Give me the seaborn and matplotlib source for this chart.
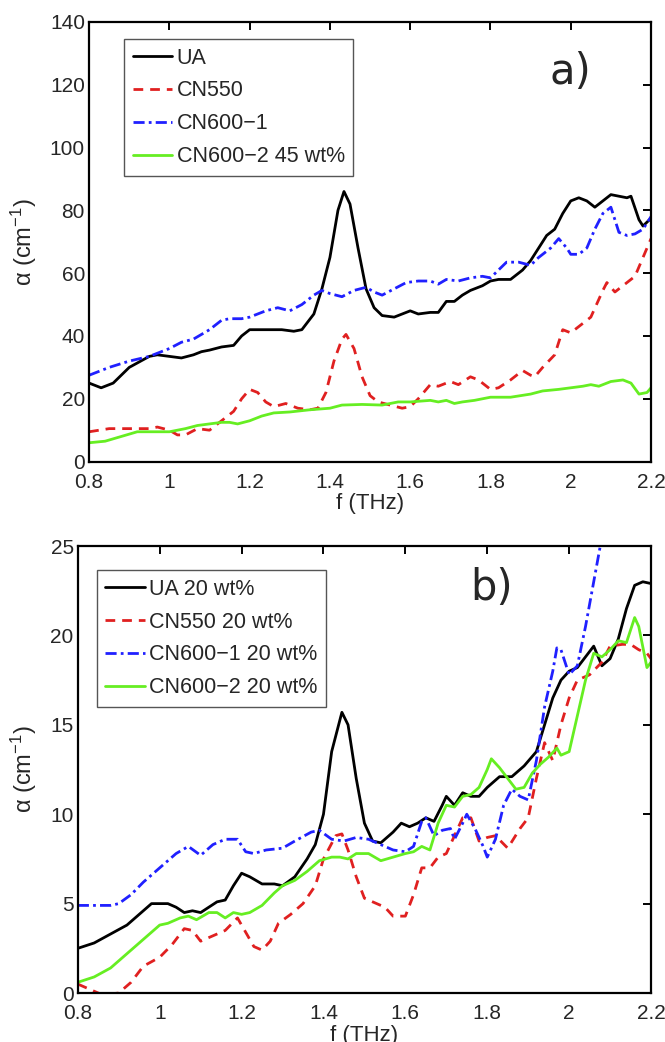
import numpy as np
import matplotlib
matplotlib.use("Agg")
import matplotlib.pyplot as plt
import seaborn as sns

# ---- panel a) : pure materials ----
f_ua_a = [0.8, 0.83, 0.86, 0.9, 0.95, 0.97, 1.0, 1.03, 1.06, 1.08, 1.1, 1.13, 1.16, 1.18, 1.2, 1.25, 1.28, 1.31,
          1.33, 1.36, 1.38, 1.4, 1.42, 1.435, 1.45, 1.47, 1.49, 1.51, 1.53, 1.56, 1.58, 1.6, 1.62, 1.65, 1.67,
          1.69, 1.71, 1.73, 1.75, 1.78, 1.8, 1.82, 1.85, 1.88, 1.9, 1.92, 1.94, 1.96, 1.98, 2.0, 2.02, 2.04,
          2.06, 2.08, 2.1, 2.12, 2.14, 2.15, 2.17, 2.18, 2.2]
a_ua_a = [25, 23.5, 25, 30, 33.5, 34, 33.5, 33, 34, 35, 35.5, 36.5, 37, 40, 42, 42, 42, 41.5,
          42, 47, 55, 65, 80, 86, 82, 68, 55, 49, 46.5, 46, 47, 48, 47, 47.5, 47.5,
          51, 51, 53, 54.5, 56, 57.5, 58, 58, 61, 64, 68, 72, 74, 79, 83, 84, 83,
          81, 83, 85, 84.5, 84, 84.5, 77, 75, 77.5]

f_cn550_a = [0.8, 0.85, 0.9, 0.95, 0.97, 1.0, 1.02, 1.04, 1.07, 1.1, 1.13, 1.16, 1.18, 1.2, 1.22, 1.24, 1.26,
             1.29, 1.32, 1.35, 1.37, 1.39, 1.41, 1.43, 1.44, 1.46, 1.48, 1.5, 1.52, 1.55, 1.58, 1.6, 1.62,
             1.65, 1.67, 1.7, 1.72, 1.75, 1.77, 1.8, 1.82, 1.85, 1.88, 1.9, 1.91, 1.93, 1.96, 1.98, 2.0,
             2.02, 2.05, 2.08, 2.09, 2.11, 2.14, 2.16, 2.18, 2.2]
a_cn550_a = [9.5, 10.5, 10.5, 10.5, 11, 10, 8.5, 8.5, 10.5, 10, 13, 16, 20, 23, 22, 19, 17.5,
             18.5, 17, 16.5, 17, 22, 32, 39, 40.5, 36, 27, 21, 19, 18, 17, 17.5, 20,
             24.5, 24, 25.5, 24.5, 27, 26, 23, 23.5, 26, 29, 27.5, 27, 30, 34, 42, 41,
             43, 46, 54.5, 57, 54, 57, 59, 65, 71]

f_cn6001_a = [0.8, 0.85, 0.9, 0.95, 1.0, 1.03, 1.06, 1.1, 1.13, 1.15, 1.18, 1.2, 1.24, 1.27, 1.3, 1.33, 1.36,
              1.38, 1.4, 1.43, 1.46, 1.49, 1.51, 1.53, 1.56, 1.59, 1.62, 1.65, 1.67, 1.69, 1.72, 1.75, 1.78,
              1.8, 1.82, 1.84, 1.87, 1.9, 1.92, 1.95, 1.97, 1.99, 2.0, 2.02, 2.04, 2.06, 2.08, 2.1, 2.12,
              2.14, 2.16, 2.18, 2.2]
a_cn6001_a = [27.5, 30, 32, 33.5, 36, 38, 39, 42, 45, 45.5, 45.5, 46, 48, 49, 48, 50, 53,
              54.5, 53.5, 52.5, 54.5, 55.5, 54, 53, 55, 57, 57.5, 57.5, 56.5, 58, 57.5, 58.5, 59,
              58.5, 61, 63.5, 63.5, 62.5, 65, 68, 71, 68, 66, 66, 68, 74, 79, 81, 73,
              72, 72.5, 74, 78]

f_cn6002_a = [0.8, 0.84, 0.88, 0.92, 0.96, 1.0, 1.04, 1.07, 1.1, 1.13, 1.15, 1.17, 1.2, 1.23, 1.26, 1.3, 1.35,
              1.4, 1.43, 1.48, 1.53, 1.57, 1.6, 1.65, 1.67, 1.69, 1.71, 1.73, 1.76, 1.8, 1.85, 1.9, 1.93,
              1.97, 2.0, 2.03, 2.05, 2.07, 2.1, 2.13, 2.15, 2.17, 2.19, 2.2]
a_cn6002_a = [6, 6.5, 8, 9.5, 9.5, 9.5, 10.5, 11.5, 12, 12.5, 12.5, 12, 13, 14.5, 15.5, 15.8, 16.5,
              17, 18, 18.2, 18, 19, 19, 19.5, 19, 19.5, 18.5, 19, 19.5, 20.5, 20.5, 21.5, 22.5,
              23, 23.5, 24, 24.5, 24, 25.5, 26, 25, 21.5, 22, 23.5]

labels_a = ["UA", "CN550", "CN600\u22121", "CN600\u22122 45 wt%"]

# ---- panel b) : 20 wt% mixtures ----
f_ua_b = [0.8, 0.84, 0.88, 0.92, 0.95, 0.98, 1.02, 1.04, 1.06, 1.08, 1.1, 1.12, 1.14, 1.16, 1.18, 1.2, 1.22,
          1.25, 1.28, 1.3, 1.33, 1.36, 1.38, 1.4, 1.42, 1.445, 1.46, 1.48, 1.5, 1.52, 1.54, 1.57, 1.59,
          1.61, 1.63, 1.65, 1.67, 1.69, 1.7, 1.72, 1.74, 1.76, 1.78, 1.8, 1.83, 1.86, 1.89, 1.92, 1.94,
          1.96, 1.98, 2.0, 2.02, 2.04, 2.06, 2.08, 2.1, 2.12, 2.14, 2.16, 2.18, 2.2]
a_ua_b = [2.5, 2.8, 3.3, 3.8, 4.4, 5.0, 5.0, 4.8, 4.5, 4.6, 4.5, 4.8, 5.1, 5.2, 6.0, 6.7, 6.5,
          6.1, 6.1, 6.0, 6.5, 7.5, 8.3, 10, 13.5, 15.7, 15, 12, 9.5, 8.5, 8.4, 9.0, 9.5,
          9.3, 9.5, 9.8, 9.6, 10.5, 11, 10.5, 11.2, 11, 11, 11.5, 12.1, 12.1, 12.7, 13.5, 15,
          16.5, 17.5, 18, 18.2, 18.8, 19.4, 18.3, 18.7, 19.8, 21.5, 22.8, 23, 22.9]

f_cn550_b = [0.8, 0.83, 0.86, 0.9, 0.93, 0.96, 1.0, 1.03, 1.06, 1.08, 1.1, 1.13, 1.16, 1.19, 1.21, 1.23, 1.25,
             1.27, 1.29, 1.32, 1.35, 1.38, 1.4, 1.43, 1.445, 1.46, 1.48, 1.5, 1.52, 1.55, 1.57, 1.6, 1.62,
             1.64, 1.66, 1.68, 1.7, 1.72, 1.74, 1.76, 1.78, 1.8, 1.82, 1.85, 1.88, 1.9, 1.92, 1.94, 1.96,
             1.98, 2.0, 2.02, 2.05, 2.08, 2.1, 2.13, 2.15, 2.17, 2.19, 2.2]
a_cn550_b = [0.5, 0.2, -0.1, 0.0, 0.6, 1.5, 2.0, 2.7, 3.6, 3.5, 2.9, 3.2, 3.5, 4.2, 3.4, 2.6, 2.4,
             2.9, 3.9, 4.4, 5.0, 6.0, 7.5, 8.8, 8.9, 8.0, 6.5, 5.3, 5.1, 4.8, 4.3, 4.3, 5.5,
             7.0, 7.0, 7.6, 7.8, 8.8, 9.8, 9.8, 8.5, 8.7, 8.8, 8.1, 9.2, 9.8, 12, 14, 13,
             15, 16.5, 17.5, 17.8, 18.5, 19.4, 19.5, 19.5, 19.2, 19.0, 18.7]

f_cn6001_b = [0.8, 0.85, 0.88, 0.9, 0.93, 0.96, 1.0, 1.04, 1.07, 1.1, 1.13, 1.16, 1.19, 1.21, 1.23, 1.26, 1.3,
              1.33, 1.37, 1.39, 1.42, 1.45, 1.48, 1.51, 1.54, 1.57, 1.6, 1.62, 1.64, 1.65, 1.67, 1.69, 1.71,
              1.72, 1.74, 1.75, 1.77, 1.79, 1.8, 1.82, 1.84, 1.86, 1.88, 1.9, 1.92, 1.94, 1.96, 1.97, 1.98,
              2.0, 2.02, 2.04, 2.06, 2.08, 2.1]
a_cn6001_b = [4.9, 4.9, 4.9, 5.0, 5.5, 6.2, 7.0, 7.8, 8.2, 7.7, 8.3, 8.6, 8.6, 7.9, 7.8, 8.0, 8.1,
              8.5, 9.0, 9.1, 8.6, 8.5, 8.7, 8.6, 8.3, 8.0, 7.9, 8.2, 9.6, 9.8, 8.8, 9.1, 9.2,
              8.6, 9.5, 10, 9.2, 8.2, 7.6, 8.6, 10.5, 11.4, 11.0, 10.8, 13.0, 16, 18, 19.3, 19.2,
              17.8, 18.3, 20.5, 23, 25.5, 28]

f_cn6002_b = [0.8, 0.84, 0.88, 0.92, 0.96, 1.0, 1.02, 1.05, 1.07, 1.09, 1.12, 1.14, 1.16, 1.18, 1.2, 1.22, 1.25,
              1.28, 1.3, 1.33, 1.36, 1.39, 1.42, 1.44, 1.46, 1.48, 1.51, 1.54, 1.57, 1.6, 1.62, 1.64, 1.66,
              1.68, 1.7, 1.72, 1.74, 1.76, 1.78, 1.8, 1.81, 1.83, 1.85, 1.87, 1.89, 1.91, 1.93, 1.95, 1.97,
              1.98, 2.0, 2.02, 2.04, 2.06, 2.08, 2.1, 2.12, 2.14, 2.16, 2.17, 2.19, 2.2]
a_cn6002_b = [0.6, 0.9, 1.4, 2.2, 3.0, 3.8, 3.9, 4.2, 4.3, 4.1, 4.5, 4.5, 4.2, 4.5, 4.4, 4.5, 4.9,
              5.6, 6.0, 6.3, 6.8, 7.4, 7.6, 7.6, 7.5, 7.8, 7.8, 7.4, 7.6, 7.8, 7.9, 8.2, 8.0,
              9.5, 10.5, 10.4, 11.0, 11.1, 11.5, 12.5, 13.1, 12.6, 12.0, 11.4, 11.5, 12.3, 12.8, 13.2, 13.7,
              13.3, 13.5, 15.5, 17.5, 19.0, 18.8, 19.2, 19.7, 19.6, 21.0, 20.5, 18.2, 18.5]

labels_b = ["UA 20 wt%", "CN550 20 wt%", "CN600\u22121 20 wt%", "CN600\u22122 20 wt%"]

colors = ["black", "#e02020", "#2020ff", "#66ee22"]
styles = ["-", (0, (3.5, 2.5)), (0, (4, 1.5, 1, 1.5)), "-"]

sns.set_style("white")
plt.rcParams["font.family"] = ["Liberation Sans", "DejaVu Sans"]
plt.rcParams["mathtext.fontset"] = "custom"
plt.rcParams["mathtext.rm"] = "Liberation Sans"
plt.rcParams["mathtext.it"] = "Liberation Sans:italic"

fig = plt.figure(figsize=(6.65, 10.42), dpi=100)
ax1 = fig.add_axes([0.134, 0.557, 0.845, 0.422])
ax2 = fig.add_axes([0.117, 0.047, 0.862, 0.429])


def draw(ax, series, labels, ylim, yticks, tag, tag_xy, leg_xy):
    for (fx, ay), lab, c, ls in zip(series, labels, colors, styles):
        sns.lineplot(x=fx, y=ay, ax=ax, color=c, linestyle=ls, linewidth=2.0, label=lab)
    ax.set_xlim(0.8, 2.2)
    ax.set_ylim(*ylim)
    ax.set_xticks([0.8, 1, 1.2, 1.4, 1.6, 1.8, 2, 2.2])
    ax.set_xticklabels(["0.8", "1", "1.2", "1.4", "1.6", "1.8", "2", "2.2"])
    ax.set_yticks(yticks)
    ax.tick_params(direction="in", length=6, width=1.4, top=True, right=True,
                   labelsize=15, pad=3, color="black")
    ax.tick_params(axis="x", pad=8)
    for sp in ax.spines.values():
        sp.set_color("black")
        sp.set_linewidth(1.6)
    ax.set_xlabel("f (THz)", fontsize=16, labelpad=1)
    ax.set_ylabel("\u03b1 (cm$^{-1}$)", fontsize=17, labelpad=8)
    ax.text(tag_xy[0], tag_xy[1], tag, transform=ax.transAxes, fontsize=30,
            family="DejaVu Sans", ha="center", va="center")
    leg = ax.legend(loc="upper left", bbox_to_anchor=leg_xy, borderaxespad=0, fontsize=15.5,
                    handlelength=1.85, handletextpad=0.2, labelspacing=0.55, borderpad=0.4,
                    fancybox=False, framealpha=1, edgecolor="#555555")
    leg.get_frame().set_linewidth(1.0)


draw(ax1,
     [(f_ua_a, a_ua_a), (f_cn550_a, a_cn550_a), (f_cn6001_a, a_cn6001_a), (f_cn6002_a, a_cn6002_a)],
     labels_a, (0, 140), [0, 20, 40, 60, 80, 100, 120, 140], "a)", (0.856, 0.885), (0.062, 0.961))
draw(ax2,
     [(f_ua_b, a_ua_b), (f_cn550_b, a_cn550_b), (f_cn6001_b, a_cn6001_b), (f_cn6002_b, a_cn6002_b)],
     labels_b, (0, 25), [0, 5, 10, 15, 20, 25], "b)", (0.722, 0.905), (0.033, 0.946))

fig.savefig("out.png", dpi=100)
